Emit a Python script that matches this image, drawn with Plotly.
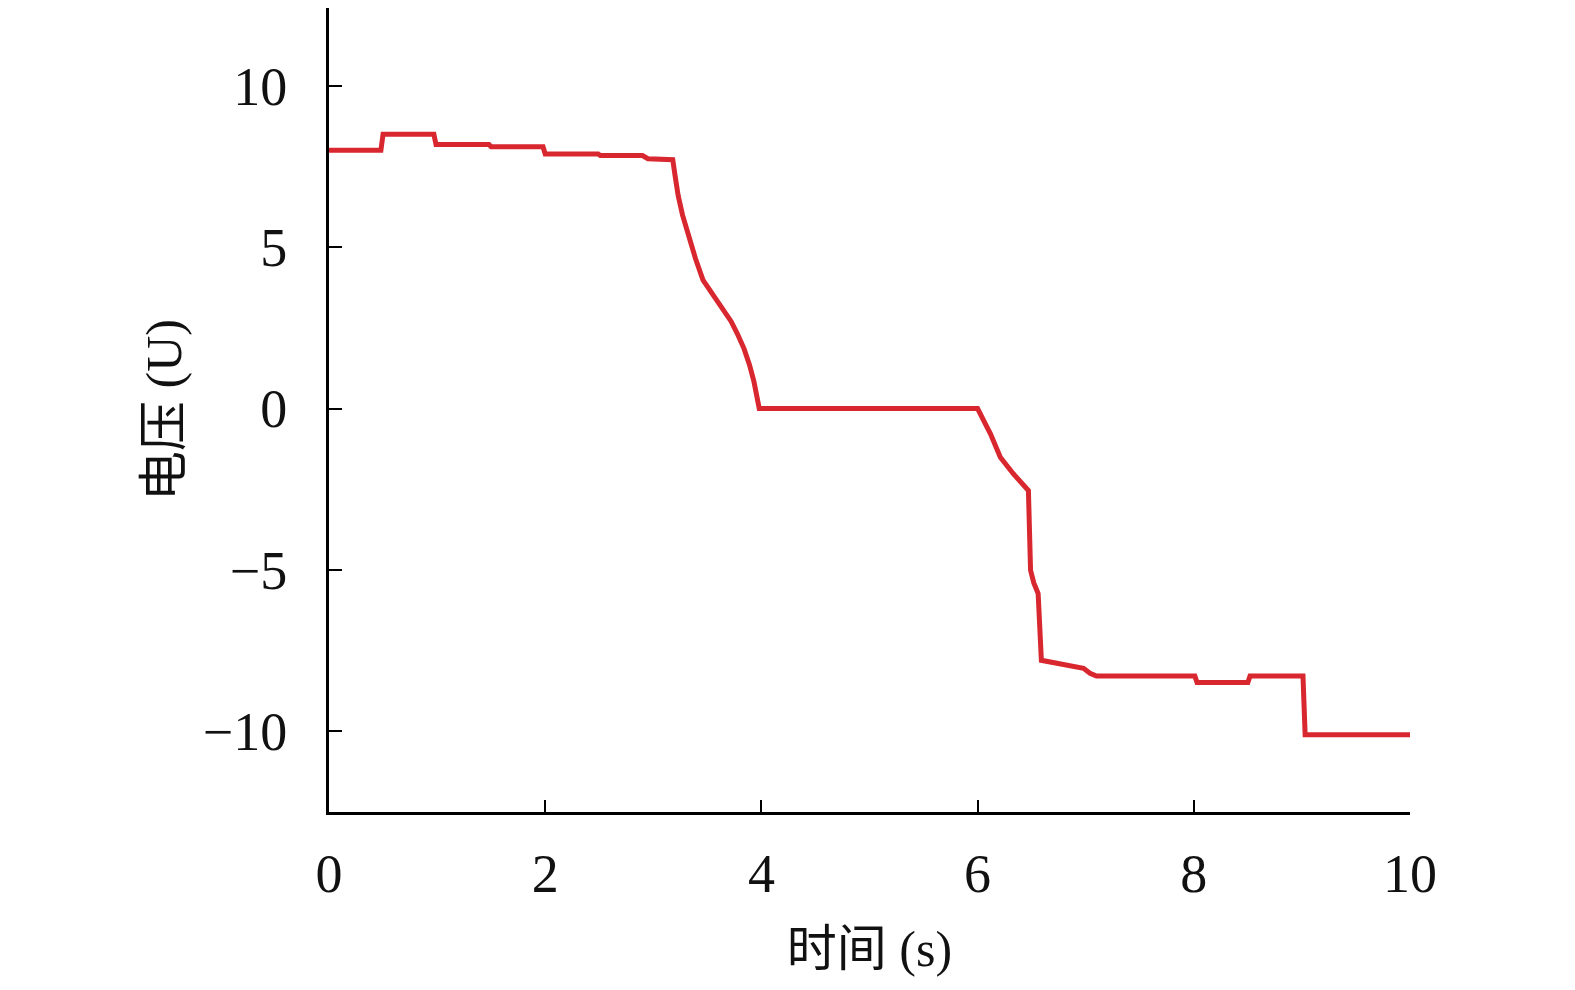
import plotly.graph_objects as go

# time (s)
time_s = [0, 0.48, 0.5, 0.97, 0.99, 1.48, 1.5, 1.98, 2.0, 2.49,
          2.51, 2.9, 2.95, 3.18, 3.20, 3.23, 3.27, 3.32, 3.39, 3.46,
          3.52, 3.59, 3.66, 3.72, 3.78, 3.84, 3.89, 3.93, 3.98, 6.0,
          6.06, 6.12, 6.21, 6.33, 6.47, 6.49, 6.52, 6.56, 6.59, 6.89,
          6.98, 7.04, 7.1, 8.01, 8.03, 8.5, 8.52, 9.01, 9.03, 10.0]
# voltage (U)
voltage = [8.0, 8.0, 8.5, 8.5, 8.18, 8.18, 8.11, 8.11, 7.89, 7.89,
           7.84, 7.84, 7.74, 7.71, 7.25, 6.6, 6.0, 5.4, 4.65, 3.98,
           3.68, 3.38, 3.04, 2.7, 2.3, 1.85, 1.35, 0.85, 0.0, 0.0,
           -0.4, -0.79, -1.51, -2.02, -2.54, -5.01, -5.4, -5.73, -7.8, -8.0,
           -8.05, -8.2, -8.29, -8.29, -8.49, -8.49, -8.29, -8.29, -10.11, -10.11]

x_ticks = [0, 2, 4, 6, 8, 10]
y_ticks = [-10, -5, 0, 5, 10]

font_family = "Liberation Serif, Times New Roman, Noto Sans CJK SC, serif"

fig = go.Figure()
fig.add_trace(go.Scatter(
    x=time_s, y=voltage, mode="lines",
    line=dict(color="#d9272f", width=5),
    showlegend=False,
))

fig.update_layout(
    width=1575, height=990,
    margin=dict(l=321, r=173, t=0, b=186),
    paper_bgcolor="white", plot_bgcolor="white",
    font=dict(family=font_family, size=54, color="#111111"),
    xaxis=dict(
        range=[0, 10], tickvals=x_ticks, ticktext=[str(v) for v in x_ticks],
        showgrid=False, zeroline=False, automargin=False,
        showline=True, linecolor="black", linewidth=3,
        ticks="inside", ticklen=12, tickwidth=2, tickcolor="black",
        ticklabelstandoff=12,
        tickfont=dict(size=54),
        title=dict(text="时间 (s)", font=dict(size=50), standoff=29),
    ),
    yaxis=dict(
        range=[-12.5, 12.41], tickvals=y_ticks,
        showgrid=False, zeroline=False, automargin=False,
        showline=True, linecolor="black", linewidth=3,
        ticks="inside", ticklen=13, tickwidth=2, tickcolor="black",
        ticklabelstandoff=28,
        tickfont=dict(size=54),
        title=dict(text="电压 (U)", font=dict(size=50), standoff=6),
    ),
)

fig.write_html("out.html")
